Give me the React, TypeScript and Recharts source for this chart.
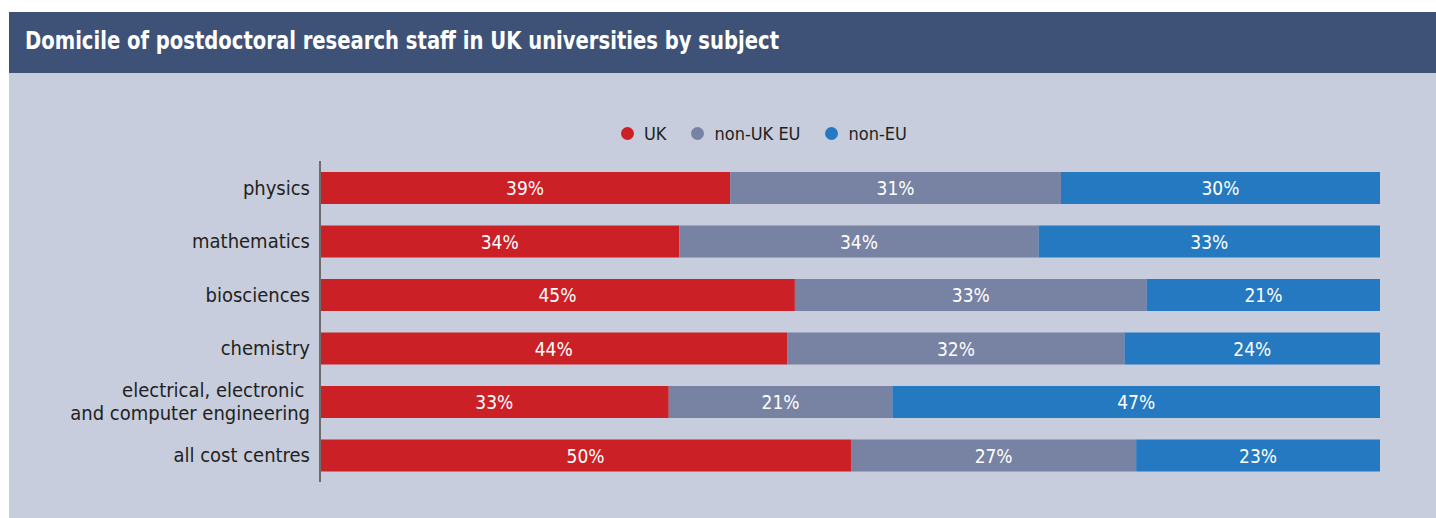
import React from 'react';
import { BarChart, Bar, XAxis, YAxis, LabelList } from 'recharts';

const title = 'Domicile of postdoctoral research staff in UK universities by subject';
const categories = [
  'physics',
  'mathematics',
  'biosciences',
  'chemistry',
  'electrical, electronic \nand computer engineering',
  'all cost centres',
];
const seriesKeys = ['uk', 'eu', 'noneu'];
const seriesNames = ['UK', 'non-UK EU', 'non-EU'];
const seriesColors = ['#cc2027', '#7882a3', '#2479c0'];
const ukValues = [38.7, 33.9, 44.8, 44.1, 32.9, 50.1];
const nonUkEuValues = [31.2, 33.9, 33.2, 31.8, 21.1, 26.9];
const nonEuValues = [30.1, 32.2, 22.0, 24.1, 46.0, 23.0];
const ukLabels = ['39%', '34%', '45%', '44%', '33%', '50%'];
const nonUkEuLabels = ['31%', '34%', '33%', '32%', '21%', '27%'];
const nonEuLabels = ['30%', '33%', '21%', '24%', '47%', '23%'];

const FONT = '"Liberation Sans Narrow", "Arial Narrow", "DejaVu Sans Condensed", sans-serif';

const data = categories.map((name, i) => ({
  name,
  uk: ukValues[i],
  eu: nonUkEuValues[i],
  noneu: nonEuValues[i],
  ukLabel: ukLabels[i],
  euLabel: nonUkEuLabels[i],
  noneuLabel: nonEuLabels[i],
}));

const CatTick = (props: any) => {
  const { x, y, payload } = props;
  const lines = String(payload.value).split('\n');
  const lh = 23;
  const start = -((lines.length - 1) * lh) / 2;
  return (
    <g>
      {lines.map((ln, i) => (
        <text
          key={i}
          x={x}
          y={y + start + i * lh}
          dy={7}
          textAnchor="end"
          fontFamily={FONT}
          fontSize={20}
          fill="#231f20"
        >
          {ln.replace(/ $/, '\u00a0')}
        </text>
      ))}
    </g>
  );
};

const ValueLabel = (props: any) => {
  const { x, y, width, height, value } = props;
  return (
    <text
      x={x + width / 2}
      y={y + height / 2}
      dy={7}
      textAnchor="middle"
      fontFamily={FONT}
      fontSize={19}
      fill="#ffffff"
    >
      {value}
    </text>
  );
};

export default function App() {
  return (
    <div style={{ position: 'absolute', left: 0, top: 0, width: 1436, height: 518, background: '#ffffff', overflow: 'hidden' }}>
      <div style={{ position: 'absolute', left: 9, top: 12, width: 1427, height: 506, background: '#c7cddd' }} />
      <div style={{ position: 'absolute', left: 9, top: 12, width: 1427, height: 61, background: '#3e5278' }} />
      <svg style={{ position: 'absolute', left: 0, top: 0 }} width={1436} height={80}>
        <text
          x={25}
          y={49}
          textLength={754}
          lengthAdjust="spacingAndGlyphs"
          fontFamily={FONT}
          fontWeight="bold"
          fontSize={25}
          fill="#ffffff"
        >
          {title}
        </text>
      </svg>
      <div
        style={{
          position: 'absolute',
          left: 621,
          top: 120,
          height: 26,
          display: 'flex',
          alignItems: 'center',
          fontFamily: FONT,
          fontSize: 18,
          color: '#231f20',
          whiteSpace: 'nowrap',
        }}
      >
        {seriesNames.map((n, i) => (
          <div key={n} style={{ display: 'flex', alignItems: 'center', marginRight: 25 }}>
            <span
              style={{
                display: 'inline-block',
                width: 13,
                height: 13,
                borderRadius: '50%',
                background: seriesColors[i],
                marginRight: 10,
              }}
            />
            <span>{n}</span>
          </div>
        ))}
      </div>
      <div style={{ position: 'absolute', left: 0, top: 0 }}>
        <BarChart
          width={1436}
          height={518}
          data={data}
          layout="vertical"
          margin={{ top: 161, right: 56, bottom: 36, left: 0 }}
          barCategoryGap={0}
        >
          <XAxis type="number" domain={[0, 100]} hide />
          <YAxis
            type="category"
            dataKey="name"
            width={320}
            axisLine={{ stroke: '#6d6d6d', strokeWidth: 2 }}
            tickLine={false}
            tickSize={6}
            tickMargin={4}
            tick={<CatTick />}
            interval={0}
          />
          {seriesKeys.map((k, i) => (
            <Bar key={k} dataKey={k} name={seriesNames[i]} stackId="a" fill={seriesColors[i]} barSize={32} isAnimationActive={false}>
              <LabelList dataKey={`${k}Label`} content={<ValueLabel />} />
            </Bar>
          ))}
        </BarChart>
      </div>
    </div>
  );
}
